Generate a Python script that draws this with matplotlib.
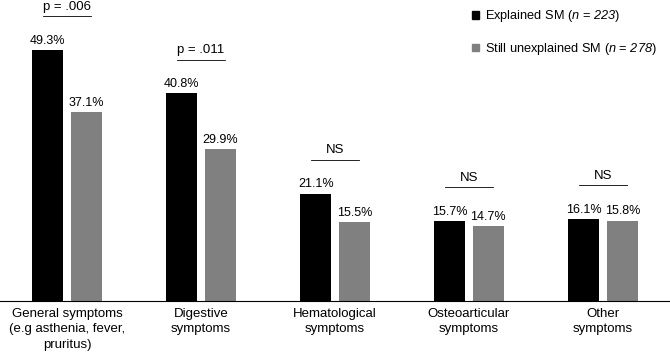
import matplotlib
matplotlib.use("Agg")
from matplotlib import pyplot as plt
from matplotlib.patches import Patch
import numpy as np

plt.rcParams['font.family'] = ['Liberation Sans', 'DejaVu Sans']
plt.rcParams['mathtext.fontset'] = 'custom'
plt.rcParams['mathtext.it'] = 'Liberation Sans:italic'
plt.rcParams['mathtext.rm'] = 'Liberation Sans:italic'

categories = ["General symptoms\n(e.g asthenia, fever,\npruritus)", "Digestive\nsymptoms",
              "Hematological\nsymptoms", "Osteoarticular\nsymptoms", "Other\nsymptoms"]
explained = [49.3, 40.8, 21.1, 15.7, 16.1]
unexplained = [37.1, 29.9, 15.5, 14.7, 15.8]
pvalues = ["p = .006", "p = .011", "NS", "NS", "NS"]

fig = plt.figure(figsize=(6.7, 3.55), dpi=100)
ax = fig.add_axes([0, 1 - 301 / 355, 1, 301 / 355])

x = np.arange(len(categories))
w = 0.23
off = 0.144
ax.bar(x - off, explained, w, color="black")
ax.bar(x + off, unexplained, w, color="#808080")

for i in range(len(x)):
    ax.text(x[i] - off, explained[i] + 0.6, f"{explained[i]:.1f}%", ha="center", va="bottom", fontsize=9)
    ax.text(x[i] + off, unexplained[i] + 0.6, f"{unexplained[i]:.1f}%", ha="center", va="bottom", fontsize=9)
    top = max(explained[i], unexplained[i]) + 6.6
    ax.plot([x[i] - 0.18, x[i] + 0.18], [top, top], color="black", lw=0.6)
    ax.text(x[i], top + 0.7, pvalues[i], ha="center", va="bottom", fontsize=9.5)

ax.set_xlim(-0.5, 4.5)
ax.set_ylim(0, 59.1)
ax.set_xticks(x)
ax.set_xticklabels(categories, fontsize=9.5, linespacing=1.38)
ax.tick_params(axis="x", length=0, pad=5)
ax.set_yticks([])
for s in ["top", "right", "left"]:
    ax.spines[s].set_visible(False)
ax.spines["bottom"].set_linewidth(0.8)

handles = [Patch(color="black"), Patch(color="#808080")]
labels = ["Explained SM ($n$ = $223$)", "Still unexplained SM ($n$ = $278$)"]
ax.legend(handles, labels, loc="upper right", bbox_to_anchor=(0.998, 1.01), frameon=False,
          fontsize=9.2, handlelength=0.55, handleheight=0.55, handletextpad=0.5, labelspacing=1.3)

fig.savefig("out.png", dpi=100)
